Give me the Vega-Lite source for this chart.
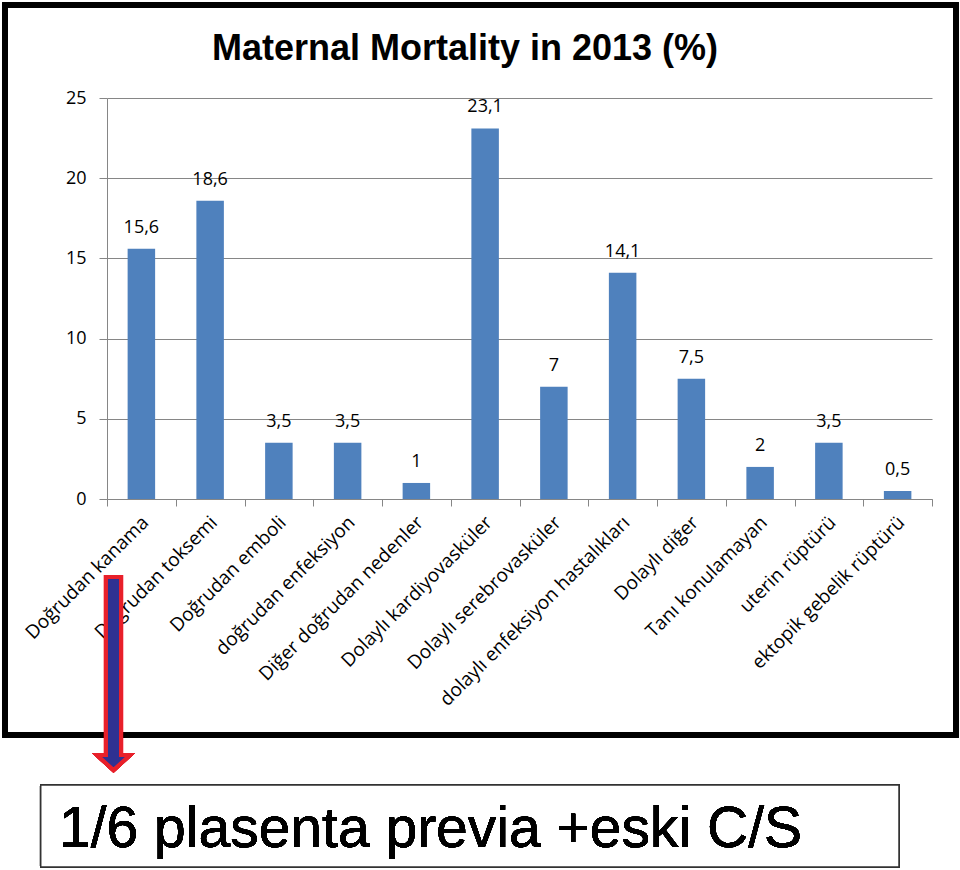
{
  "$schema": "https://vega.github.io/schema/vega-lite/v6.json",
  "width": 825,
  "height": 401,
  "autosize": {"type": "none"},
  "padding": {"left": 107, "top": 98, "right": 28, "bottom": 371},
  "background": "white",
  "title": {
    "text": "Maternal Mortality in 2013 (%)",
    "font": "Liberation Sans",
    "fontWeight": "bold",
    "fontSize": 36,
    "color": "#000000",
    "anchor": "middle",
    "frame": "group",
    "dx": -54.5,
    "baseline": "alphabetic",
    "offset": -93.5
  },
  "data": {
    "values": [
      {"cause": "Doğrudan kanama", "pct": 15.6},
      {"cause": "Doğrudan toksemi", "pct": 18.6},
      {"cause": "Doğrudan emboli", "pct": 3.5},
      {"cause": "doğrudan enfeksiyon", "pct": 3.5},
      {"cause": "Diğer doğrudan nedenler", "pct": 1},
      {"cause": "Dolaylı kardiyovasküler", "pct": 23.1},
      {"cause": "Dolaylı serebrovasküler", "pct": 7},
      {"cause": "dolaylı enfeksiyon hastalıkları", "pct": 14.1},
      {"cause": "Dolaylı diğer", "pct": 7.5},
      {"cause": "Tanı konulamayan", "pct": 2},
      {"cause": "uterin rüptürü", "pct": 3.5},
      {"cause": "ektopik gebelik rüptürü", "pct": 0.5}
    ]
  },
  "layer": [
    {
      "encoding": {
        "x": {
          "field": "cause",
          "type": "nominal",
          "sort": null,
          "scale": {"paddingInner": 0.6, "paddingOuter": 0.3},
          "axis": {
            "title": null,
            "labelAngle": -45,
            "labelAlign": "right",
            "labelBaseline": "middle",
            "labelFont": "Open Sans",
            "labelFontSize": 19,
            "labelColor": "#000000",
            "labelPadding": 20,
            "labelOffset": 4,
            "labelLimit": 500,
            "ticks": false,
            "domain": true,
            "domainColor": "#868686",
            "domainWidth": 1,
            "grid": false
          }
        },
        "y": {
          "field": "pct",
          "type": "quantitative",
          "scale": {"domain": [0, 25], "nice": false},
          "axis": {
            "title": null,
            "values": [0, 5, 10, 15, 20, 25],
            "labelFont": "Open Sans",
            "labelFontSize": 18,
            "labelColor": "#000000",
            "labelPadding": 13,
            "tickSize": 8,
            "tickColor": "#868686",
            "domainColor": "#868686",
            "grid": true,
            "gridColor": "#868686",
            "gridWidth": 1
          }
        }
      },
      "layer": [
        {"mark": {"type": "bar", "color": "#4F81BD"}},
        {
          "mark": {
            "type": "text",
            "font": "Open Sans",
            "fontSize": 18,
            "color": "#000000",
            "baseline": "alphabetic",
            "dy": -16
          },
          "encoding": {
            "text": {"field": "pct", "type": "quantitative", "format": ".1~f"}
          }
        }
      ]
    },
    {
      "layer": [
        {
          "mark": {"type": "rect", "fill": null, "fillOpacity": 0, "stroke": "#000000", "strokeWidth": 5, "clip": false},
          "encoding": {
            "x": {
              "datum": -1.484,
              "type": "quantitative",
              "scale": {"domain": [0, 12], "nice": false, "zero": false},
              "axis": {
                "orient": "bottom",
                "values": [0, 1, 2, 3, 4, 5, 6, 7, 8, 9, 10, 11, 12],
                "labels": false,
                "domain": false,
                "grid": false,
                "ticks": true,
                "tickSize": 7,
                "tickColor": "#868686",
                "title": null
              }
            },
            "x2": {"datum": 12.349},
            "y": {"datum": 30.8, "type": "quantitative"},
            "y2": {"datum": -14.71}
          }
        },
        {
          "mark": {"type": "rect", "fill": "#ffffff", "stroke": "#333333", "strokeWidth": 1.5, "clip": false},
          "encoding": {
            "x": {"datum": -0.964, "type": "quantitative"},
            "x2": {"datum": 11.52},
            "y": {"datum": -17.83, "type": "quantitative"},
            "y2": {"datum": -22.94}
          }
        },
        {
          "mark": {
            "type": "text",
            "text": "1/6 plasenta previa +eski C/S",
            "font": "Liberation Sans",
            "fontSize": 57,
            "color": "#000000",
            "align": "left",
            "baseline": "alphabetic",
            "clip": false
          },
          "encoding": {
            "x": {"datum": -0.698, "type": "quantitative"},
            "y": {"datum": -21.7, "type": "quantitative"}
          }
        },
        {
          "mark": {
            "type": "point",
            "shape": "M-0.078,-1L0.078,-1L0.078,0.845L0.171,0.845L0,1L-0.171,0.845L-0.078,0.845Z",
            "size": 37249,
            "filled": true,
            "fill": "#2E3192",
            "fillOpacity": 1,
            "stroke": "#E8202A",
            "strokeWidth": 4,
            "opacity": 1,
            "clip": false
          },
          "encoding": {
            "x": {"datum": 0.0945, "type": "quantitative"},
            "y": {"datum": -10.88, "type": "quantitative"}
          }
        }
      ]
    }
  ],
  "resolve": {"scale": {"x": "independent"}, "axis": {"x": "independent"}},
  "config": {
    "font": "Open Sans",
    "view": {"stroke": null},
    "locale": {
      "number": {"decimal": ",", "thousands": ".", "grouping": [3], "currency": ["", " TL"]}
    }
  }
}
